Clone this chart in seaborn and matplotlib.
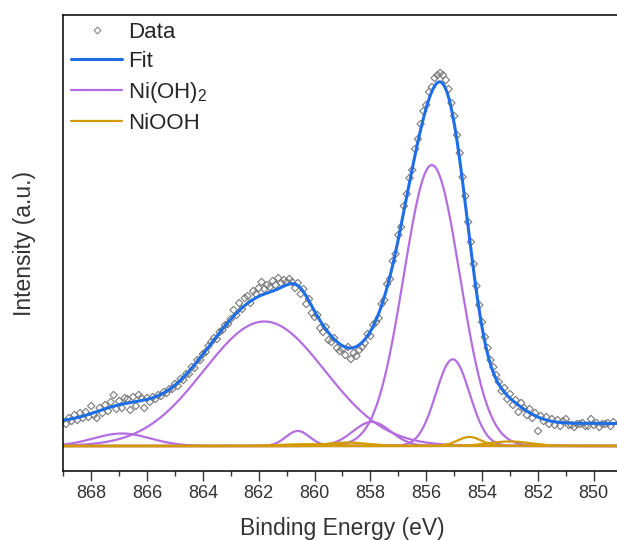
import numpy as np
import matplotlib
matplotlib.use("Agg")
import matplotlib.pyplot as plt
import seaborn as sns
from matplotlib.lines import Line2D

# Ni 2p3/2 region, measured spectrum (0.1 eV steps from 868.9 eV down to 849.3 eV)
energy_start, energy_stop, energy_step = 868.9, 849.3, 0.1
intensity = [
    22, 28, 25, 31, 26, 33, 28, 34, 29, 40, 31, 28, 38, 33, 41, 35, 44, 51, 37, 45,
    38, 48, 47, 36, 49, 40, 51, 48, 38, 48, 44, 49, 47, 51, 50, 54, 53, 57, 57, 62,
    60, 67, 66, 72, 72, 79, 78, 86, 86, 92, 94, 100, 104, 108, 107, 114, 116, 121, 122, 127,
    136, 131, 143, 137, 148, 150, 143, 155, 152, 158, 164, 157, 161, 159, 165, 161, 168, 163, 166, 164,
    167, 164, 158, 163, 152, 157, 142, 147, 133, 129, 131, 118, 114, 119, 106, 104, 108, 98, 95, 97,
    91, 99, 87, 93, 90, 96, 99, 103, 112, 110, 121, 124, 128, 142, 146, 162, 167, 185, 192, 211,
    219, 240, 252, 268, 276, 297, 307, 322, 335, 341, 354, 359, 368, 371, 373, 371, 366, 357, 343, 330,
    311, 293, 269, 250, 224, 204, 182, 160, 141, 124, 109, 98, 86, 79, 71, 64, 55, 58, 47, 52,
    41, 46, 34, 43, 38, 31, 37, 28, 33, 15, 30, 25, 29, 22, 27, 21, 26, 20, 25, 27,
    21, 21, 19, 22, 22, 23, 20, 20, 27, 21, 23, 19, 22, 22, 23, 20, 24,
]

# Peak model: centre (eV), height, FWHM (eV)
ni_oh2_centers = [866.9, 861.8, 860.6, 857.95, 855.8, 855.05]
ni_oh2_heights = [12.5, 124.5, 15.0, 24.0, 281.0, 86.7]
ni_oh2_fwhm = [2.4, 5.1, 1.0, 1.6, 2.37, 1.42]

niooh_centers = [860.3, 858.8, 854.45, 853.0]
niooh_heights = [1.8, 3.4, 9.0, 4.5]
niooh_fwhm = [2.2, 1.8, 1.0, 1.8]

# additional envelope terms of the fitted curve
envelope_centers = [857.0, 853.4, 860.1, 864.6]
envelope_heights = [25.0, 16.0, 15.0, -7.0]
envelope_fwhm = [1.8, 2.0, 2.6, 3.6]

baseline_ends = [24.0, 22.5]  # background at 869 eV and 849 eV

x_ticks = [868, 866, 864, 862, 860, 858, 856, 854, 852, 850]
x_minor = [869, 867, 865, 863, 861, 859, 857, 855, 853, 851, 849]


def gauss(x, c, h, w):
    return h * np.exp(-4.0 * np.log(2.0) * (x - c) ** 2 / w ** 2)


def background(x):
    return baseline_ends[1] + (baseline_ends[0] - baseline_ends[1]) * (x - 849.0) / 20.0


def envelope(x):
    y = background(x)
    for cs, hs, ws in ((ni_oh2_centers, ni_oh2_heights, ni_oh2_fwhm),
                       (niooh_centers, niooh_heights, niooh_fwhm),
                       (envelope_centers, envelope_heights, envelope_fwhm)):
        for c, h, w in zip(cs, hs, ws):
            y = y + gauss(x, c, h, w)
    return y


sns.set_theme(style="white")
plt.rcParams["font.family"] = ["Liberation Sans", "DejaVu Sans"]
plt.rcParams["mathtext.fontset"] = "custom"
plt.rcParams["mathtext.rm"] = "Liberation Sans"
plt.rcParams["mathtext.it"] = "Liberation Sans:italic"

blue = "#1E6EE6"
purple = "#B46EE0"
orange = "#D29B00"
grey = "#7a7a7a"
text_col = "#333333"

fig = plt.figure(figsize=(6.17, 5.40), dpi=100)
ax = fig.add_axes([0.1026, 0.1278, 0.905, 0.8444])

grid = np.linspace(849.0, 869.0, 801)
for c, h, w in zip(ni_oh2_centers, ni_oh2_heights, ni_oh2_fwhm):
    sns.lineplot(x=grid, y=gauss(grid, c, h, w), color=purple, lw=1.6, ax=ax)
for c, h, w in zip(niooh_centers, niooh_heights, niooh_fwhm):
    sns.lineplot(x=grid, y=gauss(grid, c, h, w), color=orange, lw=1.6, ax=ax)

energy = np.round(np.arange(energy_start, energy_stop - energy_step / 2, -energy_step), 1)
sns.scatterplot(x=energy, y=intensity, marker="D", s=14, fc="none",
                ec=grey, linewidth=0.8, ax=ax)
sns.lineplot(x=grid, y=envelope(grid), color=blue, lw=2.2, ax=ax)

ax.set_xlim(869, 849)
ax.set_ylim(-25, 431)
ax.set_xticks(x_ticks)
ax.set_xticks(x_minor, minor=True)
ax.set_xticklabels([str(t) for t in x_ticks])
ax.set_yticks([])
ax.tick_params(axis="x", which="major", direction="out", length=7, width=1,
               bottom=True, labelsize=13, labelcolor=text_col, pad=3, color=text_col)
ax.tick_params(axis="x", which="minor", direction="out", length=3.5, width=1,
               bottom=True, color=text_col)
for side in ["left", "bottom", "top"]:
    ax.spines[side].set_color("black")
    ax.spines[side].set_linewidth(1.1)
ax.spines["right"].set_visible(False)

ax.set_xlabel("Binding Energy (eV)", fontsize=16.5, color=text_col, labelpad=11)
ax.set_ylabel("Intensity (a.u.)", fontsize=16.5, color=text_col, labelpad=20)

handles = [
    Line2D([], [], ls="none", marker="D", ms=3.5, mfc="none", mec=grey, mew=0.7),
    Line2D([], [], color=blue, lw=2.2),
    Line2D([], [], color=purple, lw=1.6),
    Line2D([], [], color=orange, lw=1.6),
]
labels = ["Data", "Fit", "Ni(OH)$_2$", "NiOOH"]
ax.legend(handles, labels, loc="upper left", bbox_to_anchor=(0.0138, 0.985),
          frameon=False, fontsize=16, handlelength=2.3, handletextpad=0.25,
          labelspacing=0.36, borderpad=0, borderaxespad=0)

fig.savefig("out.png", dpi=100)
